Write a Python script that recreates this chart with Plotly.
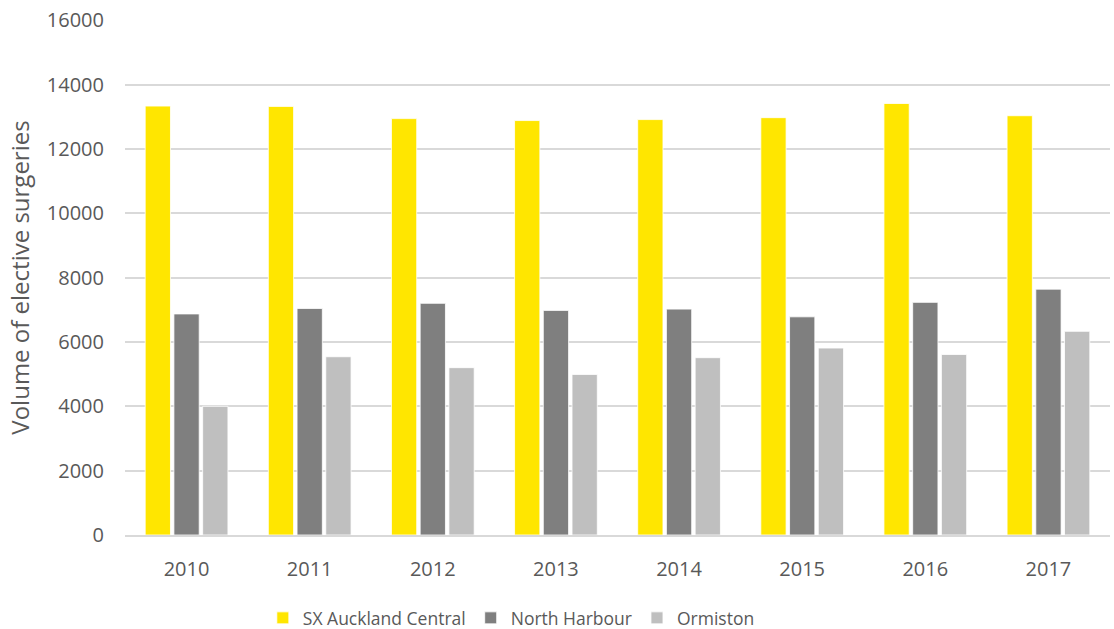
import plotly.graph_objects as go

years = ["2010", "2011", "2012", "2013", "2014", "2015", "2016", "2017"]
auckland_central = [13330, 13320, 12940, 12880, 12910, 12970, 13410, 13030]
north_harbour = [6870, 7040, 7200, 6980, 7020, 6780, 7230, 7640]
ormiston = [4000, 5540, 5200, 4990, 5510, 5810, 5610, 6330]

series = [
    ("SX Auckland Central", auckland_central, "#FFE600"),
    ("North Harbour", north_harbour, "#7F7F7F"),
    ("Ormiston", ormiston, "#BFBFBF"),
]

font = "Open Sans, Noto Sans, sans-serif"

fig = go.Figure()
for name, vals, col in series:
    fig.add_trace(go.Bar(
        x=years, y=vals, name=name,
        marker=dict(color=col, line=dict(color="white", width=0.8)),
    ))

fig.update_layout(
    width=1114, height=629,
    margin=dict(l=125, r=4, t=20, b=94, autoexpand=False),
    paper_bgcolor="white", plot_bgcolor="white",
    barmode="group", bargap=0.30, bargroupgap=0.12,
    font=dict(family=font, size=18, color="#595959"),
    showlegend=True,
    legend=dict(
        orientation="h", xref="container", yref="container",
        x=0.459, xanchor="center", y=0.0175, yanchor="middle",
        font=dict(size=17.5, color="#595959"),
        itemwidth=30,
    ),
)
fig.update_xaxes(
    showgrid=False, showline=True, linecolor="#D9D9D9", linewidth=1.5,
    ticks="", ticklabelstandoff=15, automargin=False,
    tickfont=dict(size=20, color="#595959"),
)
fig.update_yaxes(
    range=[0, 16005], tickvals=list(range(0, 16001, 2000)),
    showgrid=True, gridcolor="#D9D9D9", gridwidth=1.5,
    zeroline=False, showline=False, ticks="", ticklabelstandoff=20,
    ticklabeloverflow="allow", tickformat="d", automargin=False,
    tickfont=dict(size=20, color="#595959"),
    title=dict(text="Volume of elective surgeries", standoff=10,
               font=dict(size=24, color="#595959")),
)

# drop the browser's default 8px body margin so the figure fills the window
fig.write_html("out.html", config={"displayModeBar": False},
               post_script="document.body.style.margin='0';")
